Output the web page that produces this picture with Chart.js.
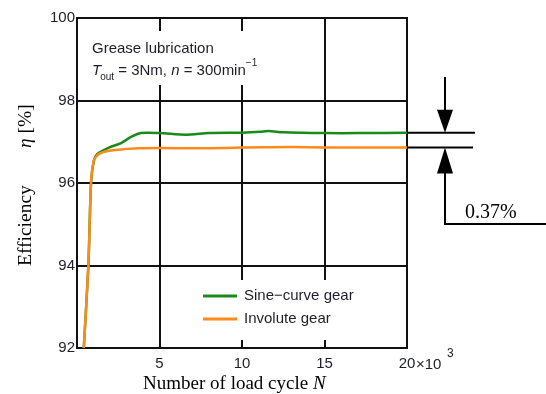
<!DOCTYPE html>
<html lang="en">
<head>
  <meta charset="UTF-8">
  <title>Efficiency vs load cycles</title>
  <script src="https://cdn.jsdelivr.net/npm/chart.js"></script>
  <style>
    html, body { margin: 0; padding: 0; background: #fff; }
    #wrap { width: 546px; height: 394px; position: relative; }
  </style>
</head>
<body>
  <div id="wrap"><canvas id="effChart" width="546" height="394"></canvas></div>

  <script>
    // values (N in thousands of cycles, efficiency in %)
    const sineN   = [0.41, 0.69, 0.85, 1.02, 1.22, 1.93, 2.64, 3.25, 3.86, 5, 6.6, 8, 10, 11.1, 11.6, 12.5, 15, 17, 20];
    const sineEff = [92, 94, 96, 96.54, 96.70, 96.86, 96.96, 97.11, 97.21, 97.21, 97.17, 97.21, 97.22, 97.24, 97.26, 97.23, 97.21, 97.21, 97.22];
    const invN    = [0.41, 0.69, 0.85, 1.02, 1.32, 1.93, 2.8, 3.76, 5, 7, 9, 10, 13, 15, 17, 20];
    const invEff  = [92, 94, 96, 96.54, 96.70, 96.78, 96.82, 96.84, 96.85, 96.84, 96.85, 96.86, 96.87, 96.86, 96.86, 96.86];
    const seriesLabels = ['Sine\u2212curve gear', 'Involute gear'];
    const xTicks = [5, 10, 15, 20];
    const yTicks = [92, 94, 96, 98, 100];

    const SANS = '"Liberation Sans", Arial, sans-serif';
    const SERIF = '"Liberation Serif", "Times New Roman", serif';
    const INK = '#1e1e2a';

    function toPoints(xs, ys) {
      return xs.map((x, i) => ({ x: x, y: ys[i] }));
    }

    // white boxes behind the note and the legend, plus the frame
    const decorPlugin = {
      id: 'decor',
      beforeDatasetsDraw(chart) {
        const ctx = chart.ctx;
        const a = chart.chartArea;
        ctx.save();
        ctx.fillStyle = '#fff';
        ctx.fillRect(a.left + 3, 31, 235, 54);
        ctx.fillRect(170, 280, 232, 60);
        ctx.strokeStyle = '#111';
        ctx.lineWidth = 2;
        ctx.strokeRect(a.left, a.top, a.right - a.left, a.bottom - a.top);
        ctx.restore();
      },
      afterDatasetsDraw(chart) {
        const ctx = chart.ctx;
        const a = chart.chartArea;
        const ys = chart.scales.y;
        ctx.save();

        // note in the top-left box
        ctx.fillStyle = INK;
        ctx.textBaseline = 'alphabetic';
        ctx.font = '15px ' + SANS;
        ctx.fillText('Grease lubrication', 92, 53);
        let x = 92;
        ctx.font = 'italic 15px ' + SANS;
        ctx.fillText('T', x, 75); x += ctx.measureText('T').width - 1;
        ctx.font = '10px ' + SANS;
        ctx.fillText('out', x, 80); x += ctx.measureText('out').width;
        ctx.font = '15px ' + SANS;
        ctx.fillText(' = 3Nm, ', x, 75); x += ctx.measureText(' = 3Nm, ').width;
        ctx.font = 'italic 15px ' + SANS;
        ctx.fillText('n', x, 75); x += ctx.measureText('n').width;
        ctx.font = '15px ' + SANS;
        ctx.fillText(' = 300min', x, 75); x += ctx.measureText(' = 300min').width;
        ctx.font = '10px ' + SANS;
        ctx.fillText('\u22121', x, 66);

        // legend
        const legendY = [296, 319];
        chart.data.datasets.forEach((ds, i) => {
          ctx.strokeStyle = ds.borderColor;
          ctx.lineWidth = 3;
          ctx.beginPath();
          ctx.moveTo(203, legendY[i]);
          ctx.lineTo(237, legendY[i]);
          ctx.stroke();
          ctx.fillStyle = INK;
          ctx.font = '15px ' + SANS;
          ctx.textBaseline = 'middle';
          ctx.fillText(ds.label, 244, legendY[i]);
        });

        // x10^3 after the last tick
        ctx.textBaseline = 'alphabetic';
        ctx.font = '15px ' + SANS;
        ctx.fillStyle = INK;
        ctx.fillText('\u00d710', 416, 369);
        ctx.font = '12px ' + SANS;
        ctx.fillText('3', 447, 357);

        // axis titles
        ctx.fillStyle = '#000';
        ctx.font = '19px ' + SERIF;
        ctx.textAlign = 'center';
        ctx.fillText('Number of load cycle ', 228, 389);
        const nx = 228 + ctx.measureText('Number of load cycle ').width / 2;
        ctx.font = 'italic 19px ' + SERIF;
        ctx.textAlign = 'left';
        ctx.fillText('N', nx, 389);

        ctx.save();
        ctx.translate(31, 266);
        ctx.rotate(-Math.PI / 2);
        ctx.font = '19.5px ' + SERIF;
        ctx.fillText('Efficiency', 0, 0);
        ctx.restore();
        ctx.save();
        ctx.translate(31, 148);
        ctx.rotate(-Math.PI / 2);
        ctx.font = 'italic 19.5px ' + SERIF;
        ctx.fillText('\u03b7', 0, 0);
        const ew = ctx.measureText('\u03b7').width;
        ctx.font = '19.5px ' + SERIF;
        ctx.fillText(' [%]', ew, 0);
        ctx.restore();

        // 0.37% gap marker on the right
        const gy = ys.getPixelForValue(sineEff[sineEff.length - 1]);
        const oy = ys.getPixelForValue(invEff[invEff.length - 1]);
        const mx = 445;
        ctx.strokeStyle = '#000';
        ctx.fillStyle = '#000';
        ctx.lineWidth = 2;
        ctx.beginPath();
        ctx.moveTo(a.right, gy); ctx.lineTo(475, gy);
        ctx.moveTo(a.right, oy); ctx.lineTo(473, oy);
        ctx.moveTo(mx, 77); ctx.lineTo(mx, gy - 20);
        ctx.moveTo(mx, oy + 20); ctx.lineTo(mx, 224); ctx.lineTo(546, 224);
        ctx.stroke();
        ctx.beginPath();
        ctx.moveTo(mx - 8, gy - 23); ctx.lineTo(mx + 8, gy - 23); ctx.lineTo(mx, gy);
        ctx.closePath();
        ctx.fill();
        ctx.beginPath();
        ctx.moveTo(mx - 8, oy + 26); ctx.lineTo(mx + 8, oy + 26); ctx.lineTo(mx, oy);
        ctx.closePath();
        ctx.fill();
        ctx.font = '20px ' + SERIF;
        ctx.fillText('0.37%', 465, 218);

        ctx.restore();
      }
    };

    const ctx = document.getElementById('effChart').getContext('2d');
    new Chart(ctx, {
      type: 'line',
      data: {
        datasets: [
          {
            label: seriesLabels[0],
            data: toPoints(sineN, sineEff),
            borderColor: '#1a8a1a',
            borderWidth: 2.5,
            pointRadius: 0,
            tension: 0.25,
            order: 2
          },
          {
            label: seriesLabels[1],
            data: toPoints(invN, invEff),
            borderColor: '#ff8a1c',
            borderWidth: 2.5,
            pointRadius: 0,
            tension: 0.25,
            order: 1
          }
        ]
      },
      options: {
        responsive: false,
        animation: false,
        layout: { padding: { left: 0, right: 139, top: 18, bottom: 0 } },
        plugins: { legend: { display: false }, tooltip: { enabled: false } },
        scales: {
          x: {
            type: 'linear',
            min: 0,
            max: 20,
            afterFit(scale) { scale.height = 46; },
            afterBuildTicks(scale) { scale.ticks = [0].concat(xTicks).map(v => ({ value: v })); },
            grid: { color: '#111', lineWidth: 2, drawTicks: false },
            border: { display: false },
            ticks: {
              padding: 7,
              color: INK,
              font: { family: SANS, size: 15 },
              callback: v => (v === 0 ? '' : String(v))
            }
          },
          y: {
            min: 92,
            max: 100,
            afterFit(scale) { scale.width = 77; },
            afterBuildTicks(scale) { scale.ticks = yTicks.map(v => ({ value: v })); },
            grid: { color: '#111', lineWidth: 2, drawTicks: false },
            border: { display: false },
            ticks: {
              padding: 2,
              color: INK,
              font: { family: SANS, size: 15 }
            }
          }
        }
      },
      plugins: [decorPlugin]
    });
  </script>
</body>
</html>
